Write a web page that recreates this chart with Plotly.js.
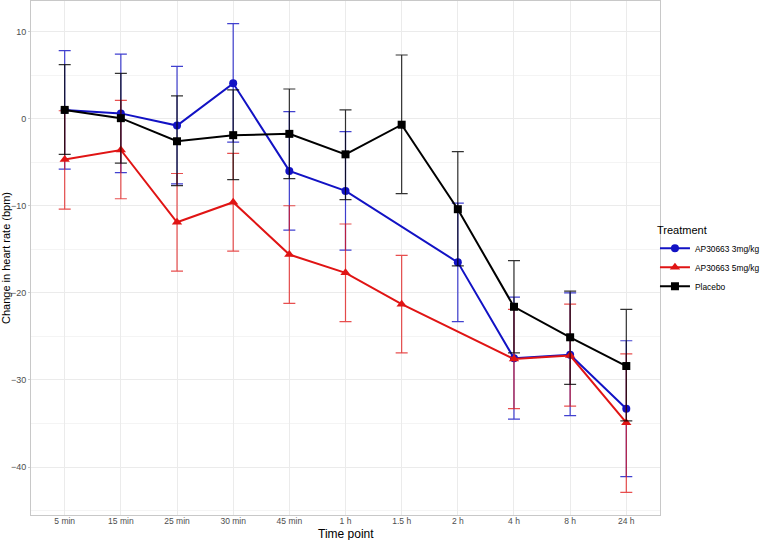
<!DOCTYPE html>
<html>
<head>
<meta charset="utf-8">
<script src="https://cdn.plot.ly/plotly-3.0.1.min.js"></script>
<style>html,body{margin:0;padding:0;background:#fff;}#chart{width:767px;height:540px;}</style>
</head>
<body>
<div id="chart"></div>
<script>
const timepoints = ["5 min","15 min","25 min","30 min","45 min","1 h","1.5 h","2 h","4 h","8 h","24 h"];

const seriesNames = ["AP30663 3mg/kg","AP30663 5mg/kg","Placebo"];

const x3mg    = ["5 min","15 min","25 min","30 min","45 min","1 h","2 h","4 h","8 h","24 h"];
const mean3mg = [1.0, 0.6, -0.8, 4.05, -6.0, -8.3, -16.5, -27.5, -27.1, -33.3];
const upper3mg = [7.8, 7.4, 6.0, 10.9, 0.8, -1.5, -9.7, -20.5, -20.0, -25.5];
const lower3mg = [-5.8, -6.2, -7.5, -2.7, -12.8, -15.1, -23.3, -34.5, -34.1, -41.1];

const x5mg    = ["5 min","15 min","25 min","30 min","45 min","1 h","1.5 h","4 h","8 h","24 h"];
const mean5mg = [-4.7, -3.6, -11.9, -9.6, -15.6, -17.7, -21.3, -27.6, -27.2, -34.9];
const upper5mg = [0.9, 2.1, -6.3, -4.0, -10.0, -12.1, -15.7, -21.9, -21.3, -27.0];
const lower5mg = [-10.4, -9.2, -17.5, -15.2, -21.2, -23.3, -26.9, -33.3, -33.0, -42.9];

const xPlacebo    = ["5 min","15 min","25 min","30 min","45 min","1 h","1.5 h","2 h","4 h","8 h","24 h"];
const meanPlacebo = [1.0, 0.05, -2.6, -1.9, -1.75, -4.1, -0.7, -10.4, -21.6, -25.1, -28.4];
const upperPlacebo = [6.2, 5.2, 2.6, 3.3, 3.4, 1.0, 7.3, -3.8, -16.3, -19.8, -21.9];
const lowerPlacebo = [-4.1, -5.1, -7.7, -7.0, -6.9, -9.3, -8.6, -16.9, -26.9, -30.5, -34.7];

function diff(a, b) { return a.map((v, i) => +(v - b[i]).toFixed(3)); }

function makeTrace(name, x, mean, upper, lower, color, errColor, symbol, size) {
  return {
    type: 'scatter', mode: 'lines+markers', name: name,
    x: x, y: mean,
    line: {color: color, width: 2},
    marker: {color: color, symbol: symbol, size: size},
    error_y: {type: 'data', symmetric: false,
      array: diff(upper, mean), arrayminus: diff(mean, lower),
      color: errColor, thickness: 1.2, width: 6}
  };
}

const traces = [
  makeTrace(seriesNames[0], x3mg, mean3mg, upper3mg, lower3mg, '#1212C4', 'rgba(18,18,196,0.8)', 'circle', 8),
  makeTrace(seriesNames[1], x5mg, mean5mg, upper5mg, lower5mg, '#E01414', 'rgba(224,20,20,0.75)', 'triangle-up', 9),
  makeTrace(seriesNames[2], xPlacebo, meanPlacebo, upperPlacebo, lowerPlacebo, '#000000', 'rgba(0,0,0,0.8)', 'square', 8)
];

const layout = {
  width: 767, height: 540,
  margin: {l: 31, r: 107, t: 1, b: 25, autoexpand: false},
  paper_bgcolor: '#ffffff', plot_bgcolor: '#ffffff',
  font: {family: 'Liberation Sans, Arial, sans-serif', color: '#000'},
  showlegend: true,
  legend: {
    x: 0.992, xanchor: 'left', y: 0.575, yanchor: 'top',
    title: {text: 'Treatment', font: {size: 11, color: '#000'}},
    font: {size: 8.4, color: '#000'},
    bgcolor: 'rgba(0,0,0,0)', tracegroupgap: 0, itemwidth: 30
  },
  annotations: [{
    text: 'Time point', xref: 'paper', yref: 'paper', x: 0.5, y: -0.037,
    xanchor: 'center', yanchor: 'middle', showarrow: false,
    font: {size: 12, color: '#000'}
  }],
  xaxis: {
    type: 'category', categoryorder: 'array', categoryarray: timepoints,
    range: [-0.6, 10.6],
    showgrid: true, gridcolor: '#ebebeb', gridwidth: 1,
    zeroline: false, showline: true, linecolor: '#c8c8c8', linewidth: 1, mirror: true,
    ticks: '', ticklabelstandoff: -2,
    tickfont: {size: 8.5, color: '#4d4d4d'}
  },
  yaxis: {
    range: [-45.5, 13.5], dtick: 10, tick0: 0,
    showgrid: true, gridcolor: '#ebebeb', gridwidth: 1,
    minor: {dtick: 5, tick0: 0, showgrid: true, gridcolor: '#f4f4f4', gridwidth: 1},
    zeroline: false, showline: true, linecolor: '#c8c8c8', linewidth: 1, mirror: true,
    ticks: 'outside', ticklen: 2, tickcolor: '#c8c8c8',
    tickfont: {size: 9, color: '#4d4d4d'},
    title: {text: 'Change in heart rate (bpm)', font: {size: 11, color: '#000'}, standoff: 2}
  }
};

Plotly.newPlot('chart', traces, layout, {displayModeBar: false, staticPlot: true});
</script>
</body>
</html>
